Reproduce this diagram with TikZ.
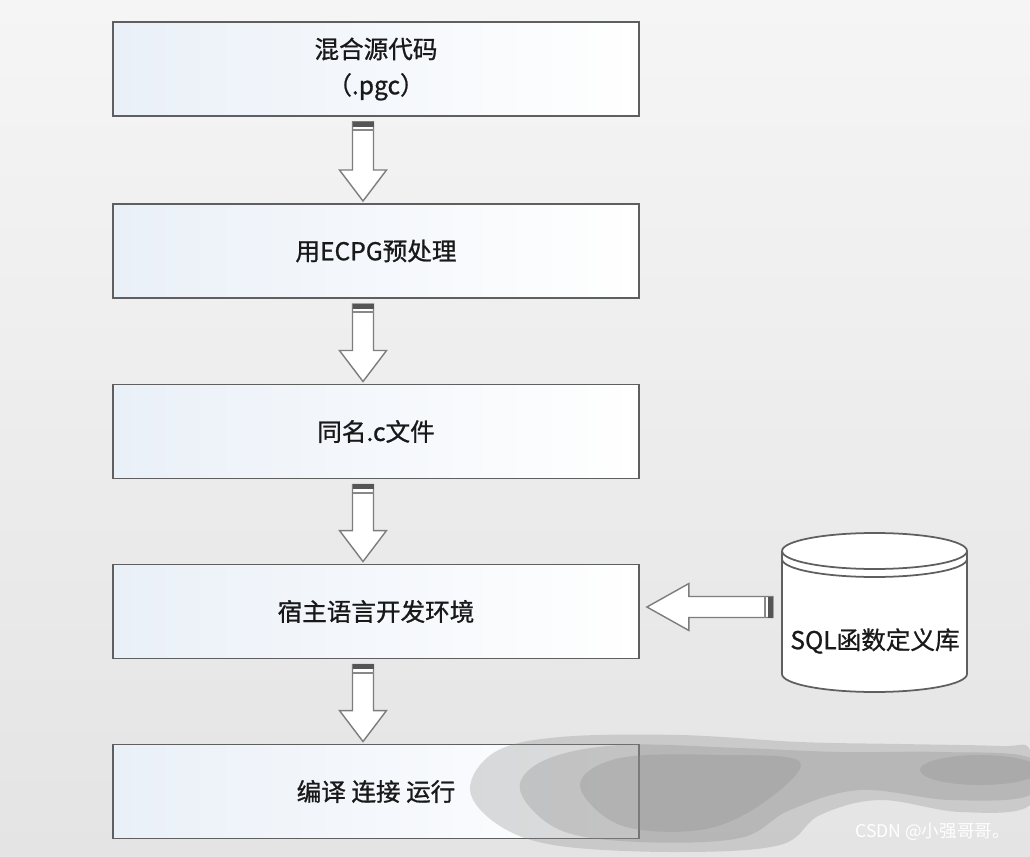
\documentclass[tikz,border=0pt]{standalone}
\usepackage{fontspec}
\setmainfont{Noto Sans CJK SC}[AutoFakeBold=0.9]
\usetikzlibrary{calc}

\definecolor{bgtop}{RGB}{245,245,245}
\definecolor{bgbot}{RGB}{228,228,228}
\definecolor{boxline}{RGB}{95,95,95}
\definecolor{boxleft}{RGB}{234,240,248}
\definecolor{arrowgray}{RGB}{125,125,125}
\definecolor{bandgray}{RGB}{85,85,85}
\definecolor{textdark}{RGB}{25,25,25}
\definecolor{brush}{RGB}{140,140,140}

% 空心块状箭头: [箭头长度]{尾}{尖}
\newcommand{\blockarrow}[3][0.62cm]{%
  \coordinate (ta) at (#2);
  \coordinate (tb) at (#3);
  \coordinate (hb) at ($(tb)!#1!(ta)$);
  \coordinate (b1) at ($(ta)!0.1cm!(tb)$);
  \coordinate (b2) at ($(ta)!0.17cm!(tb)$);
  \draw[arrowline] ($(ta)!0.21cm!90:(tb)$) -- ($(hb)!0.21cm!90:(tb)$) -- ($(hb)!0.47cm!90:(tb)$) -- (tb)
    -- ($(hb)!0.47cm!-90:(tb)$) -- ($(hb)!0.21cm!-90:(tb)$) -- ($(ta)!0.21cm!-90:(tb)$) -- cycle;
  \fill[bandgray] ($(ta)!0.21cm!90:(tb)$) -- ($(ta)!0.21cm!-90:(tb)$) -- ($(b1)!0.21cm!-90:(tb)$) -- ($(b1)!0.21cm!90:(tb)$) -- cycle;
  \draw[bandgray!70, line width=0.04cm] ($(b2)!0.21cm!90:(tb)$) -- ($(b2)!0.21cm!-90:(tb)$);
}

\tikzset{
  stepbox/.style={draw=boxline, line width=1.1pt, left color=boxleft, right color=white,
    minimum width=10.52cm, minimum height=1.88cm, inner sep=0pt, align=center,
    text=textdark, font=\fontsize{14}{20.5}\selectfont\bfseries},
  arrowline/.style={draw=arrowgray, fill=white, line width=0.8pt, line join=miter},
  dbline/.style={draw=boxline, line width=1pt},
  brushcoat/.style={fill=brush, opacity=0.3}
}

\begin{document}
\begin{tikzpicture}[x=0.02cm, y=-0.02cm]

    % 背景
    \shade[top color=bgtop, bottom color=bgbot] (0,0) rectangle (1030,857);
    \useasboundingbox (0,0) rectangle (1030,857);

    % ================= 流程框 =================
    \node[stepbox] (src)   at (376,69)    {混合源代码\\（.pgc）};
    \node[stepbox] (ecpg)  at (376,251)   {用ECPG预处理};
    \node[stepbox] (cfile) at (376,431.5) {同名.c文件};
    \node[stepbox] (host)  at (376,611.5) {宿主语言开发环境};
    \node[stepbox] (build) at (376,791.5) {编译 连接 运行};

    % 向下的箭头
    \foreach \a/\b in {src/ecpg, cfile/host, ecpg/cfile, host/build}
        \blockarrow{$(\a.south)+(-13,5)$}{$(\b.north)+(-13,-2)$};

    % ================= SQL 函数定义库 (圆柱) =================
    \fill[white] (782,551) -- (782,674) arc[start angle=180, end angle=360, x radius=1.85cm, y radius=0.36cm]
        -- (967,551) arc[start angle=0, end angle=180, x radius=1.85cm, y radius=0.36cm] -- cycle;
    \draw[dbline] (782,551) -- (782,674) arc[start angle=180, end angle=360, x radius=1.85cm, y radius=0.36cm] -- (967,551);
    \draw[dbline] (874.5,551) ellipse[x radius=1.85cm, y radius=0.36cm];
    \draw[dbline] (782,559) arc[start angle=180, end angle=360, x radius=1.85cm, y radius=0.36cm];
    \coordinate (dbside) at (782,607);
    \node[text=textdark, font=\fontsize{14}{18}\selectfont\bfseries] (sqllib) at (875,641) {SQL函数定义库};

    % 指向宿主语言开发环境的箭头
    \blockarrow[0.84cm]{$(dbside)+(-9,0)$}{$(host.east)+(7,-4.5)$};

    % 右下角的笔刷痕迹
    \fill[brushcoat] plot[smooth cycle, tension=0.6] coordinates {(470,790) (495,752) (560,737) (680,735)
        (800,742) (900,744) (1000,746) (1030,750) (1030,805) (960,812) (880,800) (820,815) (780,845)
        (680,852) (560,846) (500,826)};
    \fill[brushcoat] plot[smooth cycle, tension=0.6] coordinates {(520,790) (545,760) (620,745) (740,748)
        (840,752) (940,752) (1030,758) (1030,795) (950,800) (860,790) (790,810) (740,838) (640,842) (560,830)};
    \fill[brushcoat] plot[smooth cycle, tension=0.6] coordinates {(580,785) (620,758) (720,755) (800,762)
        (760,805) (700,830) (620,825)};
    \fill[brushcoat] (980,770) ellipse[x radius=1.2cm, y radius=0.3cm];

    % 水印
    \node[text=white, font=\fontsize{10}{12}\selectfont, anchor=east] (csdn) at (1016,832) {CSDN @小强哥哥。};

\end{tikzpicture}
\end{document}
